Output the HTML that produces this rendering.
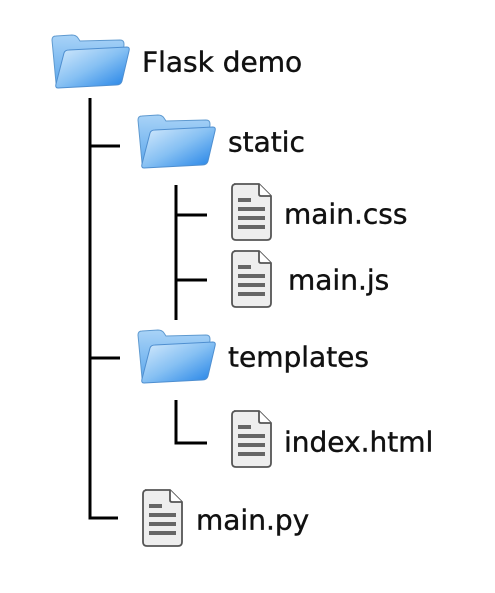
<!DOCTYPE html>
<html><head><style>
html,body{margin:0;padding:0;background:#fff;}
svg{display:block;}
text{font-family:"DejaVu Sans","Liberation Sans",sans-serif;font-size:28px;fill:#111;dominant-baseline:central;stroke:#111;stroke-width:0.4;}
</style></head><body>
<svg width="495" height="593" viewBox="0 0 495 593" xmlns="http://www.w3.org/2000/svg">
<defs>
<linearGradient id="fb" x1="0" y1="0" x2="0" y2="1"><stop offset="0" stop-color="#a9d3f7"/><stop offset="1" stop-color="#5aa6ec"/></linearGradient>
<linearGradient id="ff" x1="0" y1="0" x2="1" y2="1"><stop offset="0" stop-color="#d8ecfd"/><stop offset="0.5" stop-color="#86c0f3"/><stop offset="1" stop-color="#1d7fe6"/></linearGradient>
<g id="folder">
<path d="M2 6 Q2 2 6 2 L22 1 Q26 1 28 4 L30 7 L70 6 Q74 6 74 10 L72 45 Q72 50 67 50 L10 53 Q6 53 6 49 Z" fill="url(#fb)" stroke="#5f9ad0" stroke-width="1"/>
<path d="M14 19 Q15 16 19 16 L77 13 Q80 13 79 17 L72 47 Q71 51 66 51 L8 54 Q5 54 6 50 Z" fill="url(#ff)" stroke="#4f8fd0" stroke-width="1"/>
</g>
<g id="file">
<path d="M3 1 L28 1 L40 13 L40 53 Q40 57 36 57 L5 57 Q1 57 1 53 L1 5 Q1 1 5 1 Z" fill="#eeeeee" stroke="#555" stroke-width="1.8"/>
<path d="M28 1 L28 11 Q28 13 30 13 L40 13" fill="#fff" stroke="#555" stroke-width="1.8"/>
<rect x="7" y="15" width="13" height="4" fill="#666"/>
<rect x="7" y="24" width="27" height="4" fill="#666"/>
<rect x="7" y="33" width="27" height="4" fill="#666"/>
<rect x="7" y="42" width="27" height="4" fill="#666"/>
</g>
</defs>
<g stroke="#000" stroke-width="3" fill="none">
<path d="M90 98 L90 518 L118 518"/>
<path d="M90 146 L120 146"/>
<path d="M90 358 L120 358"/>
<path d="M176 185 L176 320"/>
<path d="M176 215 L207 215"/>
<path d="M176 280 L207 280"/>
<path d="M176 400 L176 443 L207 443"/>
</g>
<use href="#folder" x="50" y="34"/>
<use href="#folder" x="136" y="114"/>
<use href="#folder" x="136" y="329"/>
<use href="#file" x="231" y="183"/>
<use href="#file" x="231" y="250"/>
<use href="#file" x="231" y="410"/>
<use href="#file" x="142" y="489"/>
<text x="142" y="62">Flask demo</text>
<text x="228" y="142">static</text>
<text x="284" y="214">main.css</text>
<text x="288" y="280">main.js</text>
<text x="228" y="357">templates</text>
<text x="284" y="442">index.html</text>
<text x="196" y="520">main.py</text>
</svg>
</body></html>
